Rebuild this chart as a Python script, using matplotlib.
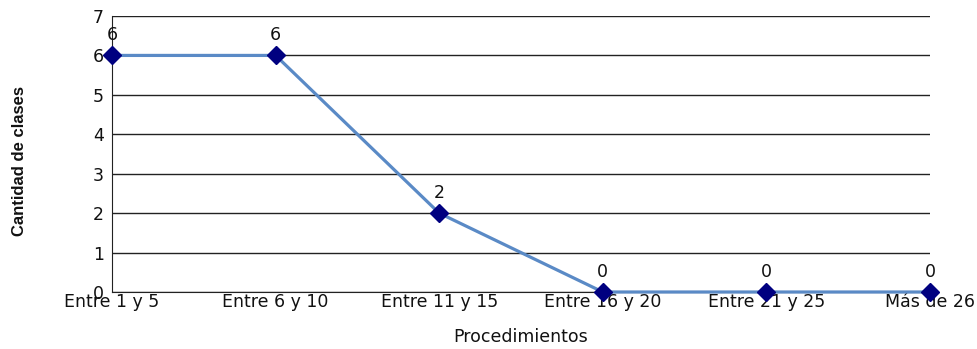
import matplotlib
matplotlib.use("Agg")
import matplotlib.pyplot as plt

categorias = ["Entre 1 y 5", "Entre 6 y 10", "Entre 11 y 15",
              "Entre 16 y 20", "Entre 21 y 25", "Más de 26"]
clases = [6, 6, 2, 0, 0, 0]

fig = plt.figure(figsize=(9.77, 3.49), dpi=100)
ax = fig.add_axes([112 / 977, 57 / 349, 818 / 977, 276 / 349])

x = list(range(len(categorias)))
ax.plot(x, clases, color="#5a8ac6", linewidth=2.3, zorder=3, clip_on=False)
ax.plot(x, clases, linestyle="none", marker="D", markersize=9,
        color="#000080", zorder=4, clip_on=False)

for xi, v in zip(x, clases):
    ax.annotate(str(v), (xi, v), xytext=(0, 8), textcoords="offset points",
                ha="center", va="bottom", fontsize=12.5, color="#111111")

ax.set_xlim(0, len(categorias) - 1)
ax.set_ylim(0, 7)
ax.set_yticks(range(0, 8))
ax.set_xticks(x)
ax.set_xticklabels(categorias)
ax.tick_params(axis="both", length=0, labelsize=12.5, colors="#111111")
ax.tick_params(axis="y", pad=6)
ax.tick_params(axis="x", pad=1)

ax.grid(axis="y", color="#222222", linewidth=1)
ax.set_axisbelow(True)
for s in ["top", "right"]:
    ax.spines[s].set_visible(False)
ax.spines["left"].set_color("#222222")
ax.spines["bottom"].set_color("#222222")

ax.set_xlabel("Procedimientos", fontsize=12.5, color="#111111", labelpad=12)
fig.text(20 / 977, 1 - 161 / 349, "Cantidad de clases", rotation=90,
         ha="center", va="center", fontsize=12, fontweight="bold",
         family=["Liberation Sans Narrow", "Liberation Sans"],
         color="#111111")

fig.savefig("out.png", dpi=100)
